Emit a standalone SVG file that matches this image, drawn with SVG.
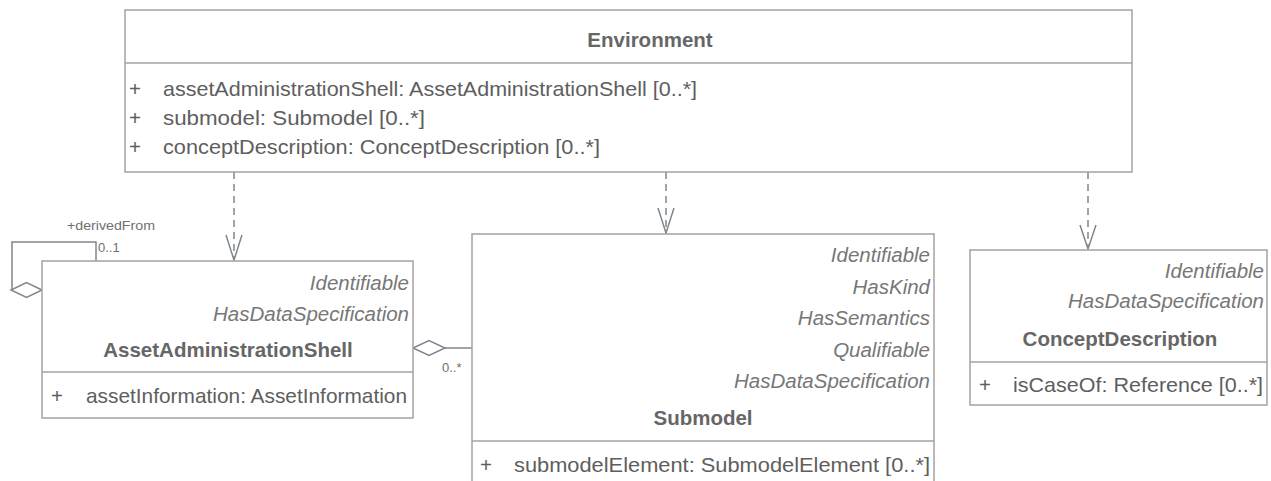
<svg xmlns="http://www.w3.org/2000/svg" width="1271" height="481" viewBox="0 0 1271 481">
<defs>
<style>
.box{fill:#ffffff;stroke:#a8a0a0;stroke-width:1.5}
.div{stroke:#a8a0a0;stroke-width:1.5}
.t{font-family:"Liberation Sans",Arial,sans-serif;font-size:21px;fill:#5e5e5e}
.ti{font-family:"Liberation Sans",Arial,sans-serif;font-size:20.5px;font-style:italic;fill:#777;text-anchor:end}
.tb{font-family:"Liberation Sans",Arial,sans-serif;font-size:20.5px;font-weight:bold;fill:#666;text-anchor:middle}
.pl{font-family:"Liberation Sans",Arial,sans-serif;font-size:20.5px;fill:#5e5e5e;text-anchor:middle}
.sm{font-family:"Liberation Sans",Arial,sans-serif;font-size:13px;fill:#707070}
.dep{fill:none;stroke:#80858f;stroke-width:1.5;stroke-dasharray:7,5}
.ln{fill:none;stroke:#80858f;stroke-width:1.5}
.dia{fill:#ffffff;stroke:#80858f;stroke-width:1.5}
</style>
</defs>

<g id="connectors">
<path class="dep" d="M234,172 V260"/>
<path class="ln" d="M226,235 L234,260 L242,235"/>
<path class="dep" d="M666,172 V233"/>
<path class="ln" d="M658,208 L666,233 L674,208"/>
<path class="dep" d="M1088,172 V249"/>
<path class="ln" d="M1080,225 L1088,249 L1096,225"/>
<path class="ln" d="M445,348 H472"/>
<path class="dia" d="M413,348 L429,340.5 L445,348 L429,355.5 Z"/>
<path class="ln" d="M96,261 V242 H12 V290"/>
<path class="dia" d="M42,290 L26.5,282.5 L11,290 L26.5,297.5 Z"/>
<text class="sm" x="67" y="230" textLength="88" lengthAdjust="spacingAndGlyphs">+derivedFrom</text>
<text class="sm" x="98" y="252">0..1</text>
<text class="sm" x="442" y="372">0..*</text>
</g>

<g id="environment">
<rect class="box" x="125" y="10" width="1007" height="162"/>
<line class="div" x1="125" y1="63" x2="1132" y2="63"/>
<text class="tb" x="650" y="47">Environment</text>
<text class="pl" x="135" y="96">+</text>
<text class="t" x="163" y="96" textLength="534" lengthAdjust="spacingAndGlyphs">assetAdministrationShell: AssetAdministrationShell [0..*]</text>
<text class="pl" x="135" y="125">+</text>
<text class="t" x="163" y="125" textLength="262" lengthAdjust="spacingAndGlyphs">submodel: Submodel [0..*]</text>
<text class="pl" x="135" y="154">+</text>
<text class="t" x="163" y="154" textLength="437" lengthAdjust="spacingAndGlyphs">conceptDescription: ConceptDescription [0..*]</text>
</g>

<g id="assetAdministrationShell">
<rect class="box" x="42" y="261" width="371" height="157"/>
<line class="div" x1="42" y1="372" x2="413" y2="372"/>
<text class="ti" x="409" y="290">Identifiable</text>
<text class="ti" x="409" y="321">HasDataSpecification</text>
<text class="tb" x="228" y="357">AssetAdministrationShell</text>
<text class="pl" x="57" y="403">+</text>
<text class="t" x="86" y="403" textLength="321" lengthAdjust="spacingAndGlyphs">assetInformation: AssetInformation</text>
</g>

<g id="submodel">
<rect class="box" x="472" y="234" width="462" height="260"/>
<line class="div" x1="472" y1="441" x2="934" y2="441"/>
<text class="ti" x="930" y="262">Identifiable</text>
<text class="ti" x="930" y="294">HasKind</text>
<text class="ti" x="930" y="325">HasSemantics</text>
<text class="ti" x="930" y="357">Qualifiable</text>
<text class="ti" x="930" y="388">HasDataSpecification</text>
<text class="tb" x="703" y="425">Submodel</text>
<text class="pl" x="486" y="472">+</text>
<text class="t" x="514" y="472" textLength="416" lengthAdjust="spacingAndGlyphs">submodelElement: SubmodelElement [0..*]</text>
</g>

<g id="conceptDescription">
<rect class="box" x="970" y="250" width="297" height="155"/>
<line class="div" x1="970" y1="362" x2="1267" y2="362"/>
<text class="ti" x="1264" y="278">Identifiable</text>
<text class="ti" x="1264" y="308">HasDataSpecification</text>
<text class="tb" x="1120" y="346">ConceptDescription</text>
<text class="pl" x="985" y="392">+</text>
<text class="t" x="1013" y="392" textLength="250" lengthAdjust="spacingAndGlyphs">isCaseOf: Reference [0..*]</text>
</g>
</svg>
